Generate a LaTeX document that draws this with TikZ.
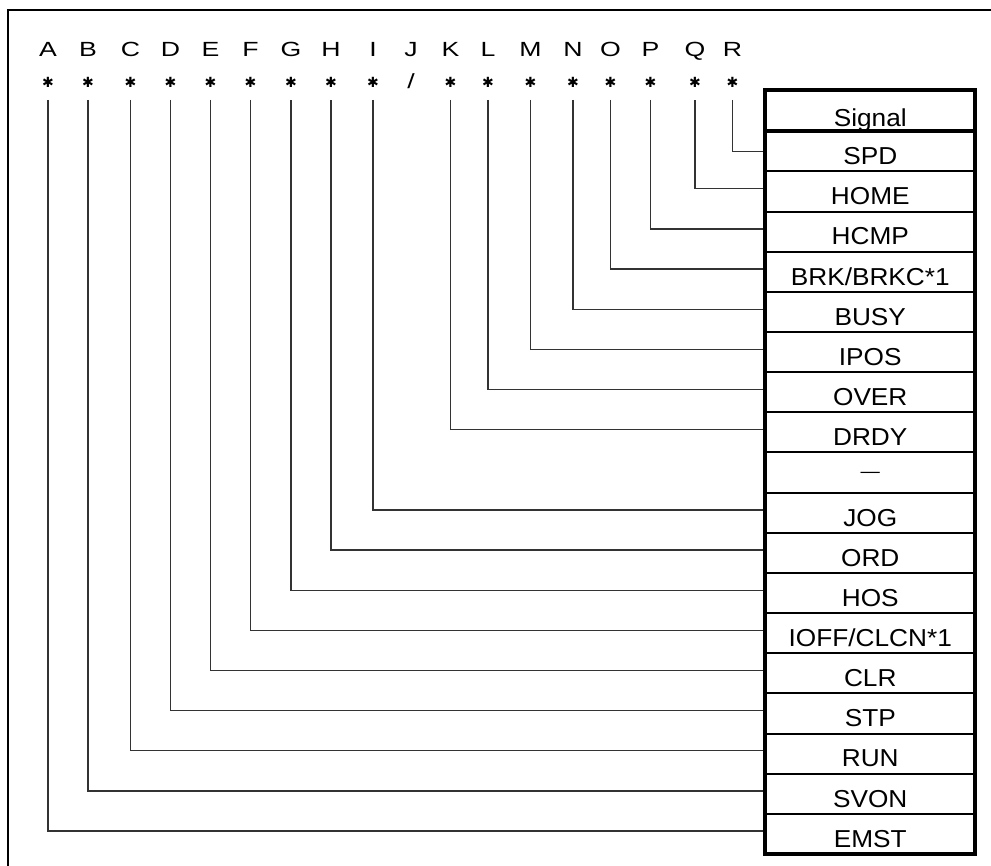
\documentclass[tikz,border=0pt]{standalone}
\usepackage{fontspec}
\setmainfont[FakeStretch=1.07]{Liberation Sans}
\newfontfamily\hdrfont[FakeStretch=1.3]{Liberation Sans}
\newfontfamily\symfont{DejaVu Sans}
\newcommand{\myast}{{\symfont ✱}}
\begin{document}
\begin{tikzpicture}[x=1pt,y=-1pt,
  frameline/.style={line width=2pt,black},
  wire/.style={line width=1.3pt,black!80},
  hdr/.style={font=\hdrfont\fontsize{20.5}{24}\selectfont,anchor=base,inner sep=0pt},
  astnode/.style={font=\fontsize{14}{16}\selectfont,inner sep=0pt},
  cell/.style={minimum width=209.5pt,minimum height=40.15pt,inner sep=0pt,
    font=\fontsize{24.5}{28}\selectfont,text height=28pt,text depth=1.85pt},
  headcell/.style={cell,minimum height=41.5pt,text height=33pt,text depth=1.1pt},
  rowsep/.style={line width=2pt,black},
  thicksep/.style={line width=4pt,black},
  border/.style={line width=4pt,black}]
\useasboundingbox (0,0) rectangle (991,866);
% outer frame
\draw[frameline] (8,870) -- (8,10) -- (995,10);
% table cells
\node[headcell] (r0) at (870.25,110.75) {Signal};
\foreach \T [count=\k] in {SPD,HOME,HCMP,{BRK/BRKC*1},BUSY,IPOS,OVER,DRDY,
  {\raisebox{8pt}{\fontsize{18}{18}\selectfont —}},JOG,ORD,HOS,{IOFF/CLCN*1},CLR,STP,RUN,SVON,EMST}
  \node[cell] (r\k) at (870.25,{131.5+40.15*(\k-0.5)}) {\T};
% headers, line starts
\foreach \L/\x [count=\i] in {A/48,B/88,C/130.5,D/170.5,E/210.5,F/250.5,G/291,H/331,I/373,
  J/411,K/450.5,L/488,M/530.5,N/573,O/610.5,P/650.5,Q/695,R/732.5}{
  \node[hdr] (h\i) at (\x,57) {\L};
  \coordinate (c\i) at (\x,100);
}
% asterisks
\foreach \i/\x in {1/48,2/88,3/130.5,4/170.5,5/210.5,6/250.5,7/291,8/331,9/373,
  11/450.5,12/488,13/530.5,14/573,15/610.5,16/650.5,17/695,18/732.5}{
  \node[astnode] (s\i) at (\x,82) {\myast};
}
\node[hdr] (s10) at (411,89) {/};
% connectors
\foreach \i in {1,...,9,11,12,...,17}{
  \pgfmathtruncatemacro\row{19-\i}
  \draw[wire] (c\i) |- ([yshift=3pt]r\row.west);
}
\draw[wire] (c18) |- (r1.west);
% table lines
\foreach \k in {2,...,18}
  \draw[rowsep] (r\k.north west) -- (r\k.north east);
\draw[thicksep] (r1.north west) -- (r1.north east);
\draw[border] (r0.north west) rectangle (r18.south east);
\end{tikzpicture}
\end{document}
